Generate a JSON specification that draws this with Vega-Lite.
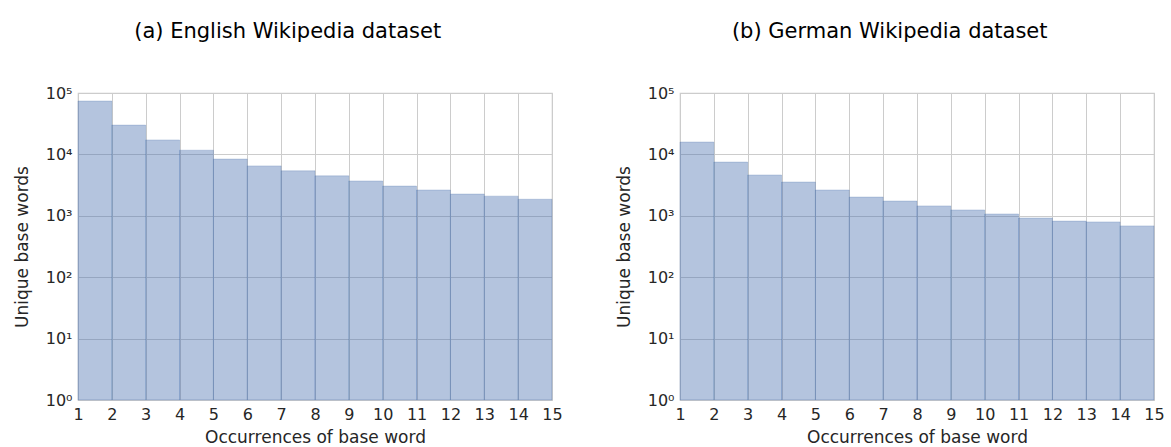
{
  "$schema": "https://vega.github.io/schema/vega-lite/v6.json",
  "background": "white",
  "padding": {"left": 12, "right": 14, "top": 20, "bottom": 4},
  "spacing": 51,
  "datasets": {
    "english": [
      {"start": 1, "end": 2, "count": 74000},
      {"start": 2, "end": 3, "count": 30000},
      {"start": 3, "end": 4, "count": 17200},
      {"start": 4, "end": 5, "count": 11700},
      {"start": 5, "end": 6, "count": 8400},
      {"start": 6, "end": 7, "count": 6500},
      {"start": 7, "end": 8, "count": 5400},
      {"start": 8, "end": 9, "count": 4470},
      {"start": 9, "end": 10, "count": 3690},
      {"start": 10, "end": 11, "count": 3050},
      {"start": 11, "end": 12, "count": 2630},
      {"start": 12, "end": 13, "count": 2260},
      {"start": 13, "end": 14, "count": 2090},
      {"start": 14, "end": 15, "count": 1860}
    ],
    "german": [
      {"start": 1, "end": 2, "count": 15900},
      {"start": 2, "end": 3, "count": 7500},
      {"start": 3, "end": 4, "count": 4620},
      {"start": 4, "end": 5, "count": 3550},
      {"start": 5, "end": 6, "count": 2630},
      {"start": 6, "end": 7, "count": 2020},
      {"start": 7, "end": 8, "count": 1740},
      {"start": 8, "end": 9, "count": 1450},
      {"start": 9, "end": 10, "count": 1245},
      {"start": 10, "end": 11, "count": 1070},
      {"start": 11, "end": 12, "count": 920},
      {"start": 12, "end": 13, "count": 820},
      {"start": 13, "end": 14, "count": 795},
      {"start": 14, "end": 15, "count": 685}
    ]
  },
  "config": {
    "view": {"stroke": "#cccccc", "strokeWidth": 1.2},
    "font": "DejaVu Sans",
    "title": {"font": "DejaVu Sans", "fontSize": 21, "fontWeight": "normal", "color": "#000000", "offset": 43, "frame": "bounds", "anchor": "middle"},
    "axis": {
      "gridColor": "#cccccc",
      "gridWidth": 1,
      "domain": false,
      "ticks": false,
      "labelFont": "DejaVu Sans",
      "labelFontSize": 16,
      "labelColor": "#262626",
      "titleFont": "DejaVu Sans",
      "titleFontSize": 17,
      "titleFontWeight": "normal",
      "titleColor": "#262626"
    }
  },
  "hconcat": [
    {
      "title": "(a) English Wikipedia dataset",
      "width": 474,
      "height": 307,
      "data": {"name": "english"},
      "mark": {"type": "rect", "fill": "#4c72b0", "fillOpacity": 0.42, "stroke": "#4c72b0", "strokeOpacity": 0.25, "strokeWidth": 1},
      "encoding": {
        "x": {"field": "start", "type": "quantitative", "scale": {"domain": [1, 15], "nice": false, "zero": false},
              "axis": {"values": [1,2,3,4,5,6,7,8,9,10,11,12,13,14,15], "title": "Occurrences of base word", "labelPadding": 6, "titlePadding": 7, "labelFlush": false}},
        "x2": {"field": "end"},
        "y": {"field": "count", "type": "quantitative", "scale": {"type": "log", "domain": [1, 100000], "nice": false},
              "axis": {"values": [1, 10, 100, 1000, 10000, 100000], "labelExpr": "'10' + ['⁰','¹','²','³','⁴','⁵'][round(log(datum.value)/LN10)]", "title": "Unique base words", "labelPadding": 6, "titlePadding": 14}},
        "y2": {"datum": 1}
      }
    },
    {
      "title": "(b) German Wikipedia dataset",
      "width": 474,
      "height": 307,
      "data": {"name": "german"},
      "mark": {"type": "rect", "fill": "#4c72b0", "fillOpacity": 0.42, "stroke": "#4c72b0", "strokeOpacity": 0.25, "strokeWidth": 1},
      "encoding": {
        "x": {"field": "start", "type": "quantitative", "scale": {"domain": [1, 15], "nice": false, "zero": false},
              "axis": {"values": [1,2,3,4,5,6,7,8,9,10,11,12,13,14,15], "title": "Occurrences of base word", "labelPadding": 6, "titlePadding": 7, "labelFlush": false}},
        "x2": {"field": "end"},
        "y": {"field": "count", "type": "quantitative", "scale": {"type": "log", "domain": [1, 100000], "nice": false},
              "axis": {"values": [1, 10, 100, 1000, 10000, 100000], "labelExpr": "'10' + ['⁰','¹','²','³','⁴','⁵'][round(log(datum.value)/LN10)]", "title": "Unique base words", "labelPadding": 6, "titlePadding": 14}},
        "y2": {"datum": 1}
      }
    }
  ]
}
